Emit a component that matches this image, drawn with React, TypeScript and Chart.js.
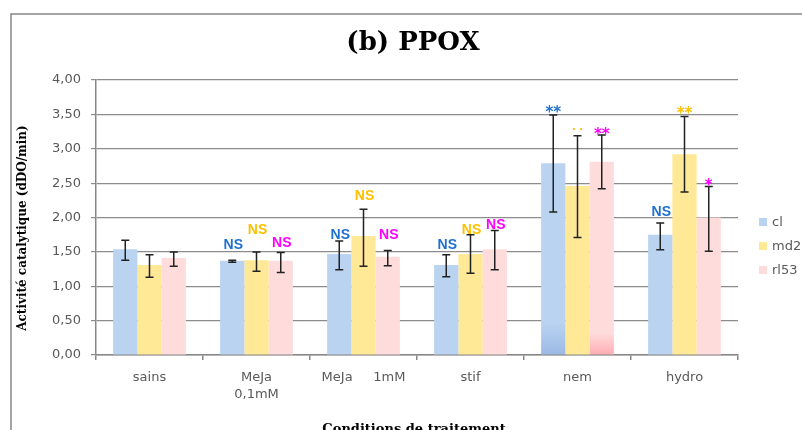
import React, { useEffect, useRef } from "react";
import { Chart, registerables } from "chart.js";

Chart.register(...registerables);

const categories: (string | string[])[] = ["sains", ["MeJa", "0,1mM"], "MeJa     1mM", "stif", "nem", "hydro"];
const seriesNames = ["cl", "md2", "rl53"];

const cl = [1.54, 1.37, 1.47, 1.31, 2.79, 1.75];
const clLow = [1.38, 1.35, 1.24, 1.14, 2.08, 1.53];
const clHigh = [1.67, 1.38, 1.66, 1.46, 3.49, 1.92];

const md2 = [1.31, 1.38, 1.73, 1.47, 2.46, 2.92];
const md2Low = [1.13, 1.22, 1.29, 1.19, 1.71, 2.37];
const md2High = [1.46, 1.5, 2.12, 1.75, 3.19, 3.47];

const rl53 = [1.41, 1.37, 1.43, 1.54, 2.81, 2.0];
const rl53Low = [1.29, 1.2, 1.3, 1.24, 2.42, 1.51];
const rl53High = [1.5, 1.49, 1.52, 1.81, 3.2, 2.45];

const clSig = ["", "NS", "NS", "NS", "**", "NS"];
const md2Sig = ["", "NS", "NS", "NS", "..", "**"];
const rl53Sig = ["", "NS", "NS", "NS", "**", "*"];

const clSigAt = [0, 1.61, 1.76, 1.61, 3.59, 2.09];
const md2SigAt = [0, 1.83, 2.33, 1.83, 3.29, 3.58];
const rl53SigAt = [0, 1.64, 1.76, 1.91, 3.27, 2.53];

const yTicks = [0, 0.5, 1, 1.5, 2, 2.5, 3, 3.5, 4];

const colors = ["rgb(185,211,240)", "rgb(255,233,150)", "rgb(255,220,220)"];
const bottomColors = ["rgb(155,185,230)", "rgb(255,233,150)", "rgb(255,172,178)"];
const sigColors = ["#1f6fd1", "#ffc000", "#ff00ff"];

const lows = [clLow, md2Low, rl53Low];
const highs = [clHigh, md2High, rl53High];
const sigs = [clSig, md2Sig, rl53Sig];
const sigAts = [clSigAt, md2SigAt, rl53SigAt];
const values = [cl, md2, rl53];

export default function App() {
  const ref = useRef<HTMLCanvasElement | null>(null);

  useEffect(() => {
    const canvas = ref.current;
    if (!canvas) return;

    const decorPlugin = {
      id: "decor",
      beforeDraw(chart: any) {
        const c = chart.ctx;
        c.save();
        c.fillStyle = "#ffffff";
        c.fillRect(0, 0, chart.width, chart.height);
        c.strokeStyle = "#878787";
        c.lineWidth = 1.5;
        c.beginPath();
        c.moveTo(11, chart.height + 2);
        c.lineTo(11, 14);
        c.lineTo(chart.width + 2, 14);
        c.stroke();
        c.restore();
      },
      afterDraw(chart: any) {
        const c = chart.ctx;
        c.save();
        c.fillStyle = "#000";
        c.textAlign = "center";
        c.textBaseline = "alphabetic";
        c.font = "bold 26px 'DejaVu Serif'";
        c.fillText("(b) PPOX", 413, 50);
        c.font = "bold 13px 'DejaVu Serif'";
        c.fillText("Conditions de traitement", 414, 433);
        c.save();
        c.translate(23, 228);
        c.rotate(-Math.PI / 2);
        c.textBaseline = "middle";
        c.font = "bold 12px 'DejaVu Serif'";
        c.fillText("Activité catalytique (dDO/min)", 0, 0);
        c.restore();

        // legend
        const ly = [222, 246, 270];
        c.font = "13px 'DejaVu Sans'";
        c.textAlign = "left";
        c.textBaseline = "middle";
        seriesNames.forEach((n, i) => {
          c.fillStyle = colors[i];
          c.fillRect(759, ly[i] - 4, 8, 8);
          c.fillStyle = "#595959";
          c.fillText(n, 772, ly[i] + 1);
        });
        c.restore();
      },
      afterDatasetsDraw(chart: any) {
        const c = chart.ctx;
        const ys = chart.scales.y;
        c.save();
        for (let i = 0; i < 3; i++) {
          const meta = chart.getDatasetMeta(i);
          meta.data.forEach((el: any, j: number) => {
            const x = el.x;
            const yt = ys.getPixelForValue(highs[i][j]);
            const yb = ys.getPixelForValue(lows[i][j]);
            c.strokeStyle = "#222";
            c.lineWidth = 1.5;
            c.beginPath();
            c.moveTo(x, yt);
            c.lineTo(x, yb);
            c.moveTo(x - 4, yt);
            c.lineTo(x + 4, yt);
            c.moveTo(x - 4, yb);
            c.lineTo(x + 4, yb);
            c.stroke();

            const s = sigs[i][j];
            if (s) {
              const yc = ys.getPixelForValue(sigAts[i][j]);
              c.fillStyle = sigColors[i];
              c.textAlign = "center";
              c.textBaseline = "alphabetic";
              if (s === "NS") {
                c.font = "bold 14px 'Liberation Sans'";
                c.fillText(s, x + 1, yc + 5);
              } else if (s === "..") {
                c.font = "bold 10px 'DejaVu Sans'";
                c.fillText(". .", x, yc + 1);
              } else {
                c.font = "bold 15px 'DejaVu Sans'";
                c.fillText(s, x, yc + 9);
              }
            }
          });
        }
        c.restore();
      },
    };

    const makeBg = (i: number) => (ctx: any) => {
      const chart = ctx.chart;
      const area = chart.chartArea;
      if (ctx.dataIndex === 4 && area && i !== 1) {
        const h = i === 0 ? 32 : 22;
        const g = chart.ctx.createLinearGradient(0, area.bottom - h, 0, area.bottom);
        g.addColorStop(0, colors[i]);
        g.addColorStop(1, bottomColors[i]);
        return g;
      }
      return colors[i];
    };

    const chart = new Chart(canvas, {
      type: "bar",
      data: {
        labels: categories as any,
        datasets: values.map((v, i) => ({
          label: seriesNames[i],
          data: v,
          backgroundColor: makeBg(i),
          borderWidth: 0,
          categoryPercentage: 0.68,
          barPercentage: 1,
        })),
      },
      options: {
        animation: false,
        responsive: false,
        maintainAspectRatio: false,
        layout: { padding: { left: 0, top: 80, right: 64, bottom: 0 } },
        plugins: {
          legend: { display: false },
          title: { display: false },
          tooltip: { enabled: false },
        },
        scales: {
          x: {
            afterFit: (s: any) => {
              s.height = 75;
            },
            grid: {
              offset: true,
              drawOnChartArea: false,
              drawTicks: true,
              tickLength: 5,
              color: "#878787",
              lineWidth: 1.5,
            },
            border: { color: "#878787", width: 1.5 },
            ticks: {
              color: "#595959",
              font: { family: "'DejaVu Sans'", size: 13, lineHeight: 1.3 },
              padding: 9,
              maxRotation: 0,
              autoSkip: false,
            },
          },
          y: {
            min: 0,
            max: 4,
            afterFit: (s: any) => {
              s.width = 96;
            },
            afterBuildTicks: (s: any) => {
              s.ticks = yTicks.map((v) => ({ value: v }));
            },
            grid: {
              color: "#8c8c8c",
              lineWidth: 1.2,
              tickLength: 5,
            },
            border: { color: "#878787", width: 1.5 },
            ticks: {
              color: "#595959",
              font: { family: "'DejaVu Sans'", size: 13 },
              padding: 10,
              callback: (v: any) => Number(v).toFixed(2).replace(".", ","),
            },
          },
        },
      },
      plugins: [decorPlugin],
    } as any);

    return () => {
      chart.destroy();
    };
  }, []);

  return (
    <div style={{ position: "fixed", left: 0, top: 0, width: 802, height: 430 }}>
      <canvas ref={ref} width={802} height={430} style={{ width: 802, height: 430, display: "block" }} />
    </div>
  );
}
